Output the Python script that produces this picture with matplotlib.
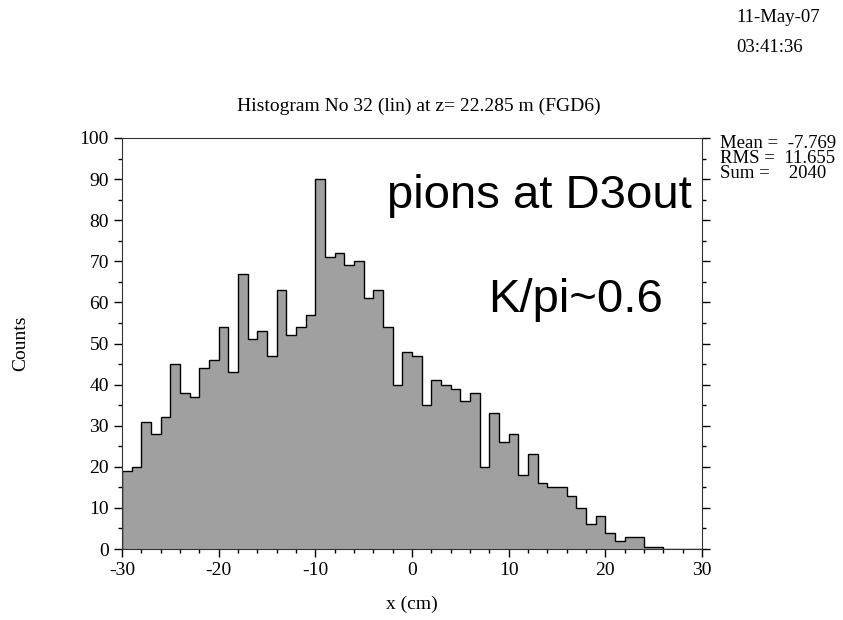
import numpy as np
import matplotlib.pyplot as plt
from matplotlib.ticker import MultipleLocator

plt.rcParams['axes.unicode_minus'] = False

# bin edges -30..30 cm, 1 cm wide
bin_edges = np.arange(-30, 31, 1)
counts = [19, 20, 31, 28, 32, 45, 38, 37, 44, 46,
          54, 43, 67, 51, 53, 47, 63, 52, 54, 57,
          90, 71, 72, 69, 70, 61, 63, 54, 40, 48,
          47, 35, 41, 40, 39, 36, 38, 20, 33, 26,
          28, 18, 23, 16, 15, 15, 13, 10, 6, 8,
          4, 2, 3, 3, 0.4, 0.4, 0, 0, 0, 0]

title = "Histogram No 32 (lin) at z= 22.285 m (FGD6)"
stats = "Mean =  -7.769\nRMS =  11.655\nSum =    2040"
serif = "Liberation Serif"
sans = "Liberation Sans"

W, H = 843, 620
fig = plt.figure(figsize=(W / 100, H / 100), dpi=100)
ax = fig.add_axes([122 / W, 1 - 549 / H, 580 / W, 411 / H])

ax.stairs(counts, bin_edges, fill=True, color="#a0a0a0")
ax.stairs(counts, bin_edges, color="black", linewidth=1)

ax.set_xlim(-30, 30)
ax.set_ylim(0, 100)
ax.xaxis.set_major_locator(MultipleLocator(10))
ax.xaxis.set_minor_locator(MultipleLocator(2))
ax.yaxis.set_major_locator(MultipleLocator(10))
ax.yaxis.set_minor_locator(MultipleLocator(5))
ax.tick_params(which="both", direction="out", right=True, top=False,
               labelright=False, width=1, labelsize=14)
ax.tick_params(which="major", length=6)
ax.tick_params(which="minor", length=3)
for lab in ax.get_xticklabels() + ax.get_yticklabels():
    lab.set_family(serif)
for sp in ax.spines.values():
    sp.set_color("#333333")

fig.text(419 / W, 1 - 106 / H, title, ha="center", va="center",
         fontsize=14, family=serif)
fig.text(412 / W, 1 - 604 / H, "x (cm)", ha="center", va="center",
         fontsize=14, family=serif)
fig.text(21 / W, 1 - 343 / H, "Counts", ha="center", va="center",
         rotation=90, fontsize=14, family=serif)

ax.text(28.96, 83, "pions at D3out", ha="right", va="baseline",
        fontsize=34, family=sans)
ax.text(25.96, 57.7, "K/pi~0.6", ha="right", va="baseline",
        fontsize=34, family=sans)

fig.text(720 / W, 1 - 135 / H, stats, ha="left", va="top",
         fontsize=13.5, family=serif, linespacing=0.86)
fig.text(736 / W, 1 - 18 / H, "11-May-07", ha="left", va="center",
         fontsize=13.5, family=serif)
fig.text(736 / W, 1 - 47 / H, "03:41:36", ha="left", va="center",
         fontsize=13.5, family=serif)

fig.savefig("out.png", dpi=100)
